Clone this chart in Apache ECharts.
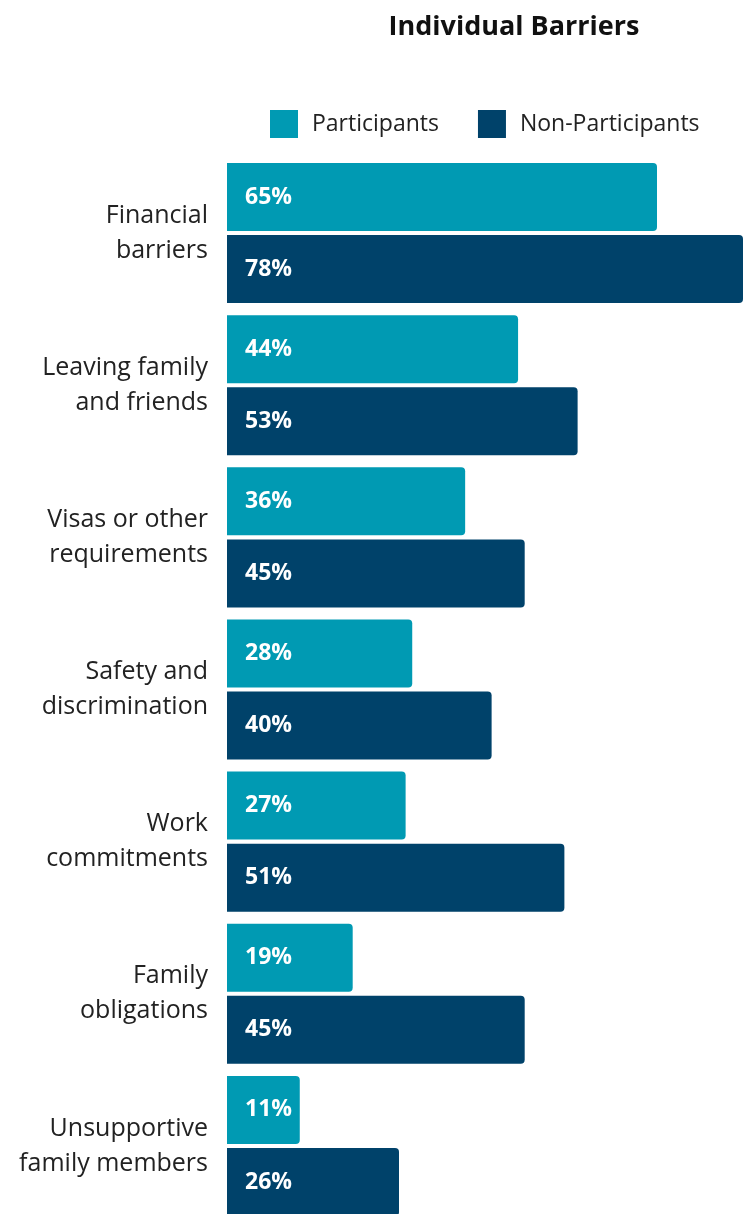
<!DOCTYPE html>
<html><head><meta charset="utf-8">
<script src="https://cdn.jsdelivr.net/npm/echarts@6/dist/echarts.min.js"></script>
<style>html,body{margin:0;padding:0;background:#fff}#c{width:751px;height:1214px}</style>
</head><body><div id="c"></div>
<script>
const categories = ["Financial\nbarriers","Leaving family\nand friends","Visas or other\nrequirements","Safety and\ndiscrimination","Work\ncommitments","Family\nobligations","Unsupportive\nfamily members"];
const participants = [65,44,36,28,27,19,11];
const nonParticipants = [78,53,45,40,51,45,26];
const seriesNames = ["Participants","Non-Participants"];
const colors = ["#009AB3","#00426A"];
const font = "'Open Sans', Lato, sans-serif";
const chart = echarts.init(document.getElementById('c'));
const lbl = {show:true, position:'insideLeft', distance:18, color:'#fff', fontWeight:'bold', fontSize:23, fontFamily:font, formatter:p=>p.value+'%'};
chart.setOption({
  animation:false,
  title:{text:'Individual Barriers', left:509, top:9, textAlign:'center', textStyle:{fontFamily:font, fontWeight:'bold', fontSize:27, color:'#111'}},
  legend:{left:265, top:105, itemWidth:28, itemHeight:28, itemGap:39, icon:'rect',
    textStyle:{fontFamily:font, fontSize:23, color:'#222', padding:[0,0,0,9]}, data:seriesNames},
  grid:{left:227, top:157, width:516, height:1065, outerBoundsMode:'none', containLabel:false},
  xAxis:{type:'value', min:0, max:78, show:false},
  yAxis:{type:'category', inverse:true, data:categories,
    axisLine:{show:false}, axisTick:{show:false},
    axisLabel:{margin:19, fontFamily:font, fontSize:25, lineHeight:35, color:'#222', align:'right'}},
  series:[
    {name:seriesNames[0], type:'bar', data:participants, barWidth:68, barGap:'6%', itemStyle:{color:colors[0], borderRadius:[0,4,4,0]}, label:lbl},
    {name:seriesNames[1], type:'bar', data:nonParticipants, barWidth:68, itemStyle:{color:colors[1], borderRadius:[0,4,4,0]}, label:lbl}
  ]
});
</script></body></html>
